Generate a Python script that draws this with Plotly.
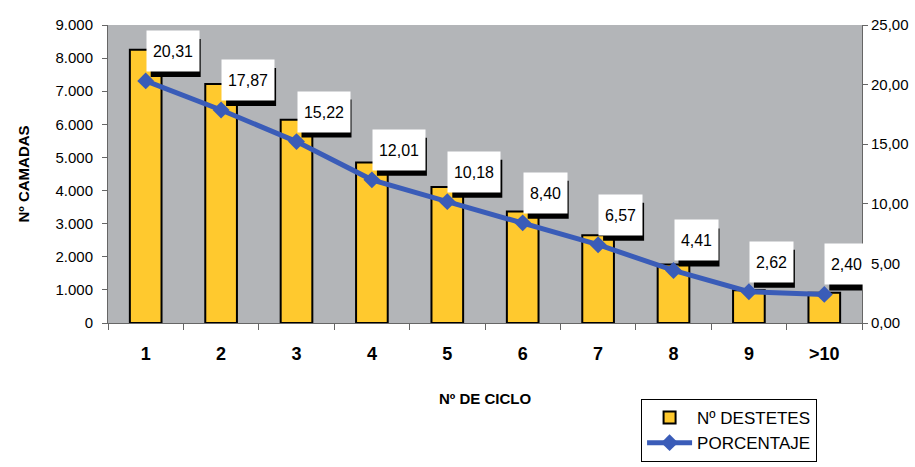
import plotly.graph_objects as go

categories = ["1", "2", "3", "4", "5", "6", "7", "8", "9", ">10"]
destetes = [8250, 7220, 6140, 4850, 4110, 3370, 2650, 1770, 990, 910]
porcentaje = [20.31, 17.87, 15.22, 12.01, 10.18, 8.40, 6.57, 4.41, 2.62, 2.40]
left_ticks = [0, 1000, 2000, 3000, 4000, 5000, 6000, 7000, 8000, 9000]
right_ticks = [0, 5, 10, 15, 20, 25]

NARROW = "Liberation Sans Narrow, Arial Narrow, Liberation Sans, Arial, sans-serif"
BG = "#B3B5B8"
BAR = "#FFC92E"
LINE = "#3A5CB8"

fig = go.Figure()
fig.add_trace(go.Bar(
    x=categories, y=destetes, name="Nº DESTETES",
    marker=dict(color=BAR, line=dict(color="black", width=2)),
    width=0.42, yaxis="y",
))
fig.add_trace(go.Scatter(
    x=categories, y=porcentaje, name="PORCENTAJE", mode="lines+markers",
    line=dict(color=LINE, width=5),
    marker=dict(symbol="diamond", size=13, color=LINE),
    yaxis="y2",
))

annotations = []
shapes = []
H = 38
for i, p in enumerate(porcentaje):
    txt = f"{p:.2f}".replace(".", ",")
    w = 9 * len(txt) + 5
    # drop shadow (pixel-sized rect anchored at the data point)
    shapes.append(dict(
        type="rect", xref="x", yref="y2", xsizemode="pixel", ysizemode="pixel",
        xanchor=i, yanchor=p, x0=5, x1=w + 5, y0=4, y1=H + 4,
        fillcolor="black", line=dict(width=0), layer="above",
    ))
    annotations.append(dict(
        x=i, y=p, xref="x", yref="y2", text=txt, showarrow=False,
        xanchor="left", yanchor="bottom", xshift=0, yshift=9,
        width=w, height=H, bgcolor="white",
        font=dict(family=NARROW, size=16, color="black"),
    ))

fig.update_layout(
    width=915, height=467,
    margin=dict(l=108, r=53, t=25, b=144, autoexpand=False),
    paper_bgcolor="white", plot_bgcolor=BG,
    separators=",.",
    font=dict(family=NARROW, size=15, color="black"),
    showlegend=True,
    legend=dict(
        x=0.707, y=-0.255, xanchor="left", yanchor="top",
        bgcolor="white", bordercolor="black", borderwidth=1,
        font=dict(family=NARROW, size=17, color="black"),
        traceorder="normal", itemwidth=45,
    ),
    xaxis=dict(
        type="category", tickson="boundaries", ticks="outside", ticklen=6,
        tickcolor="#666", showline=True, linecolor="#666", linewidth=1,
        showgrid=False, tickfont=dict(family=NARROW, size=18, color="black", weight="bold"),
        ticklabelstandoff=14, automargin=False,
        title=dict(text="<b>Nº DE CICLO</b>", font=dict(family=NARROW, size=15), standoff=30),
        range=[-0.5, 9.5],
    ),
    yaxis=dict(
        range=[0, 9000], tickvals=left_ticks, tickformat=",.0f",
        ticks="outside", ticklen=5, tickcolor="#666",
        showline=True, linecolor="#666", linewidth=1, showgrid=False, zeroline=False,
        tickfont=dict(family=NARROW, size=15), automargin=False,
        ticklabelstandoff=6,
        title=dict(text="<b>Nº CAMADAS</b>", font=dict(family=NARROW, size=15), standoff=22),
    ),
    yaxis2=dict(
        range=[0, 25], tickvals=right_ticks, tickformat=".2f",
        overlaying="y", side="right", automargin=False,
        ticks="outside", ticklen=5, tickcolor="#666",
        showline=True, linecolor="#666", linewidth=1, showgrid=False, zeroline=False,
        tickfont=dict(family=NARROW, size=15),
    ),
    annotations=annotations,
    shapes=shapes,
)

fig.write_html("out.html")
